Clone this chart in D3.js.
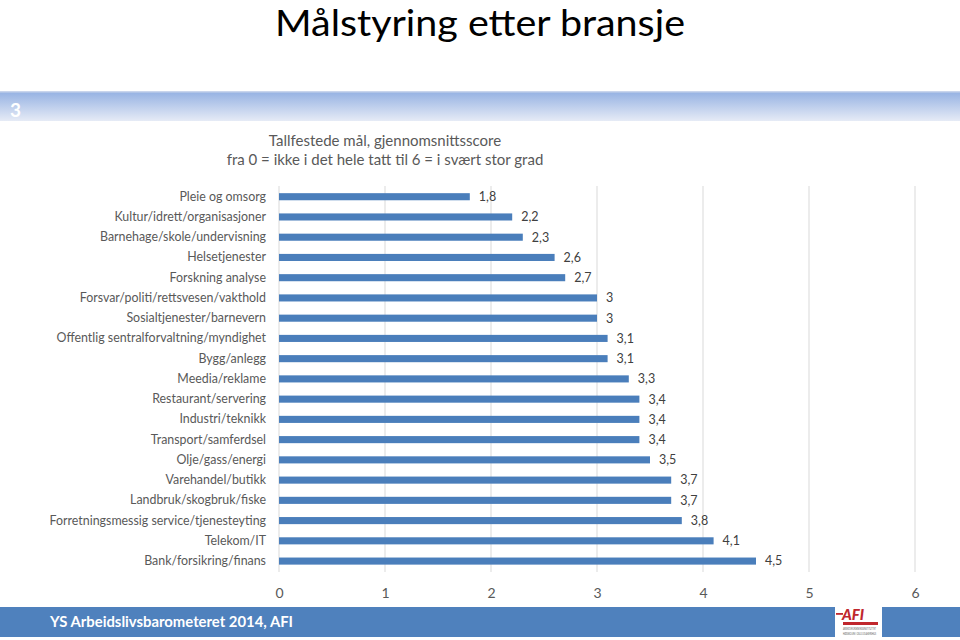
<!DOCTYPE html>
<html><head><meta charset="utf-8">
<script src="https://cdn.jsdelivr.net/npm/d3@7"></script>
<style>body{margin:0;background:#fff}svg{display:block}text{font-family:Lato,"Open Sans",sans-serif}</style>
</head><body>
<script>
const categories = ["Pleie og omsorg","Kultur/idrett/organisasjoner","Barnehage/skole/undervisning","Helsetjenester","Forskning analyse","Forsvar/politi/rettsvesen/vakthold","Sosialtjenester/barnevern","Offentlig sentralforvaltning/myndighet","Bygg/anlegg","Meedia/reklame","Restaurant/servering","Industri/teknikk","Transport/samferdsel","Olje/gass/energi","Varehandel/butikk","Landbruk/skogbruk/fiske","Forretningsmessig service/tjenesteyting","Telekom/IT","Bank/forsikring/finans"];
const values = [1.8,2.2,2.3,2.6,2.7,3,3,3.1,3.1,3.3,3.4,3.4,3.4,3.5,3.7,3.7,3.8,4.1,4.5];
const ticks = [0,1,2,3,4,5,6];
const title = "Målstyring etter bransje";
const subtitle = ["Tallfestede mål, gjennomsnittsscore","fra 0 = ikke i det hele tatt til 6 = i svært stor grad"];
const footer = "YS Arbeidslivsbarometeret 2014, AFI";
const slideNo = "3";

const W = 960, H = 640;
const svg = d3.select("body").append("svg").attr("width", W).attr("height", H);
const defs = svg.append("defs");
const g1 = defs.append("linearGradient").attr("id","ban").attr("x1",0).attr("y1",0).attr("x2",0).attr("y2",1);
g1.append("stop").attr("offset","0%").attr("stop-color","#93b0e2");
g1.append("stop").attr("offset","100%").attr("stop-color","#e6ebf6");

// title
svg.append("text").attr("x",480).attr("y",36).attr("text-anchor","middle")
  .attr("font-size",36).attr("fill","#000")
  .attr("textLength",410).attr("lengthAdjust","spacingAndGlyphs").text(title);

// banner
svg.append("rect").attr("x",0).attr("y",91).attr("width",W).attr("height",30).attr("fill","url(#ban)");
svg.append("rect").attr("x",0).attr("y",91).attr("width",W).attr("height",1.5).attr("fill","#c9d5ec");
svg.append("text").attr("x",10).attr("y",117).attr("font-size",19).attr("font-weight","bold").attr("fill","#fff").text(slideNo);

// subtitle
subtitle.forEach((s,i)=>{
  svg.append("text").attr("x",385).attr("y",146+i*19).attr("text-anchor","middle")
    .attr("font-size",15).attr("fill","#595959").text(s);
});

// scales
const x = d3.scaleLinear().domain([0,6]).range([279,915]);
const y = d3.scaleBand().domain(categories).range([186.6,571.2]).paddingInner(0.65).paddingOuter(0.325);

// grid
svg.append("g").selectAll("line").data(ticks).join("line")
  .attr("x1",d=>x(d)).attr("x2",d=>x(d)).attr("y1",186).attr("y2",572)
  .attr("stroke","#d9d9d9").attr("stroke-width",1);

// bars
svg.append("g").selectAll("rect").data(values).join("rect")
  .attr("x",x(0)).attr("y",(d,i)=>y(categories[i]))
  .attr("width",d=>x(d)-x(0)).attr("height",y.bandwidth())
  .attr("fill","#4a7ebb");

// value labels
svg.append("g").selectAll("text").data(values).join("text")
  .attr("x",d=>x(d)+9).attr("y",(d,i)=>y(categories[i])+y.bandwidth()/2)
  .attr("dy","0.35em").attr("font-size",12.5).attr("fill","#404040")
  .text(d=>String(d).replace(".",","));

// category axis
const yAxis = d3.axisLeft(y).tickSize(0).tickPadding(13);
const ya = svg.append("g").attr("transform",`translate(${x(0)},0)`).call(yAxis);
ya.select(".domain").remove();
ya.selectAll("text").attr("font-size",12.4).attr("fill","#595959").attr("font-family","Lato,sans-serif");

// x axis
const xAxis = d3.axisBottom(x).tickValues(ticks).tickSize(0).tickPadding(10).tickFormat(d3.format("d"));
const xa = svg.append("g").attr("transform","translate(0,578)").call(xAxis);
xa.select(".domain").remove();
xa.selectAll("text").attr("font-size",14).attr("fill","#595959").attr("font-family","Lato,sans-serif");

// footer
svg.append("rect").attr("x",0).attr("y",607).attr("width",W).attr("height",30).attr("fill","#4f81bd");
svg.append("text").attr("x",50).attr("y",627).attr("font-size",15.5).attr("font-weight","bold").attr("fill","#fff")
  .attr("textLength",243).attr("lengthAdjust","spacingAndGlyphs").text(footer);

// logo
svg.append("rect").attr("x",835).attr("y",605).attr("width",47).attr("height",33).attr("fill","#fff");
svg.append("rect").attr("x",836).attr("y",613).attr("width",7).attr("height",1.8).attr("fill","#c0272d");
svg.append("text").attr("x",842).attr("y",620).attr("font-size",15).attr("font-weight","900").attr("font-style","italic")
  .attr("fill","#c0272d").text("AFI");
svg.append("rect").attr("x",843).attr("y",622).attr("width",35).attr("height",3).attr("fill","#c0272d");
svg.append("text").attr("x",843).attr("y",630).attr("font-size",3).attr("fill","#555")
  .attr("textLength",33).attr("lengthAdjust","spacingAndGlyphs").text("ARBEIDSFORSKNINGSINSTITUTTET");
svg.append("text").attr("x",843).attr("y",635).attr("font-size",3).attr("fill","#555")
  .attr("textLength",33).attr("lengthAdjust","spacingAndGlyphs").text("HØGSKOLEN I OSLO OG AKERSHUS");
</script>
</body></html>
